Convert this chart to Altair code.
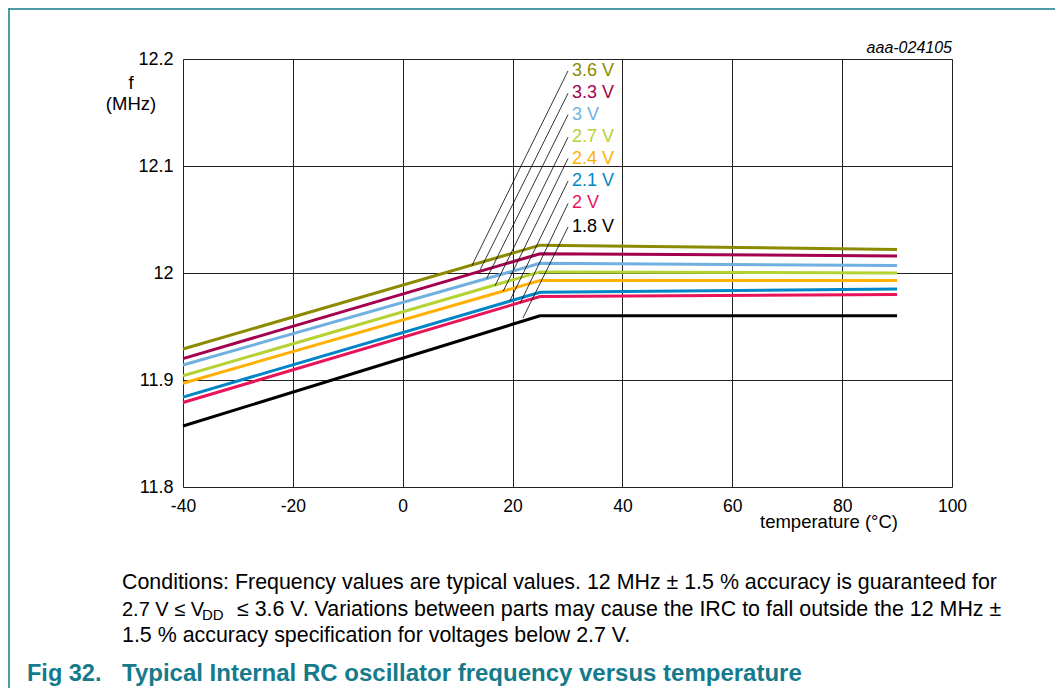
import altair as alt
import pandas as pd

# ---------------- data ----------------
series = ["3.6 V", "3.3 V", "3 V", "2.7 V", "2.4 V", "2.1 V", "2 V", "1.8 V"]
colors = ["#8c8a00", "#a3004f", "#6fb0e0", "#b4d232", "#ffb000", "#0086c8", "#e8145a", "#000000"]
temps = [-40, 25, 90]
freq_3v6 = [11.929, 12.026, 12.022]
freq_3v3 = [11.920, 12.018, 12.016]
freq_3v0 = [11.914, 12.009, 12.007]
freq_2v7 = [11.904, 12.001, 12.000]
freq_2v4 = [11.897, 11.993, 11.993]
freq_2v1 = [11.884, 11.982, 11.985]
freq_2v0 = [11.879, 11.978, 11.980]
freq_1v8 = [11.857, 11.960, 11.960]
freqs = [freq_3v6, freq_3v3, freq_3v0, freq_2v7, freq_2v4, freq_2v1, freq_2v0, freq_1v8]

label_x = 30.1          # leader start / label anchor (temperature)
label_text_x = 30.8
label_y = [12.189, 12.168, 12.148, 12.127, 12.107, 12.086, 12.065, 12.043]
leader_end_x = [12.6, 14.1, 15.3, 16.8, 18.3, 19.5, 21.4, 21.9]
leader_end_y = [12.007, 12.003, 11.995, 11.988, 11.983, 11.974, 11.972, 11.958]

x_ticks = [-40, -20, 0, 20, 40, 60, 80, 100]
y_ticks = [11.8, 11.9, 12.0, 12.1, 12.2]

rows = []
for s, f in zip(series, freqs):
    for t, v in zip(temps, f):
        rows.append({"series": s, "temp": t, "freq": v})
lines_df = pd.DataFrame(rows)

labels_df = pd.DataFrame({
    "series": series,
    "lx": [label_x] * len(series),
    "tx": [label_text_x] * len(series),
    "ly": label_y,
    "ex": leader_end_x,
    "ey": leader_end_y,
})

W, H = 769, 428
FONT = "Liberation Sans"
TEAL = "#157a8b"

xscale = alt.Scale(domain=[-40, 100], nice=False, zero=False)
yscale = alt.Scale(domain=[11.8, 12.2], nice=False, zero=False)
cscale = alt.Scale(domain=series, range=colors)

xaxis = alt.Axis(values=x_ticks, title=None, labelExpr="datum.value + ''",
                 labelFontSize=17.5, labelPadding=10, labelColor="black", labelFlush=False,
                 labelOverlap=False,
                 grid=True, gridColor="#222222", gridWidth=1, ticks=False, domain=False)
yaxis = alt.Axis(values=y_ticks, title=None, format=".1~f",
                 labelFontSize=18, labelPadding=10, labelColor="black", labelFlush=False,
                 labelOverlap=False,
                 grid=True, gridColor="#222222", gridWidth=1, ticks=False, domain=False)

lines = alt.Chart(lines_df).mark_line(strokeWidth=3).encode(
    x=alt.X("temp:Q", scale=xscale, axis=xaxis),
    y=alt.Y("freq:Q", scale=yscale, axis=yaxis),
    color=alt.Color("series:N", scale=cscale, legend=None),
    detail="series:N",
)

leaders = alt.Chart(labels_df).mark_rule(color="black", strokeWidth=0.8).encode(
    x=alt.X("lx:Q", scale=xscale),
    y=alt.Y("ly:Q", scale=yscale),
    x2="ex:Q",
    y2="ey:Q",
)

label_marks = alt.Chart(labels_df).mark_text(
    align="left", baseline="middle", fontSize=18, font=FONT
).encode(
    x=alt.X("tx:Q", scale=xscale),
    y=alt.Y("ly:Q", scale=yscale),
    text="series:N",
    color=alt.Color("series:N", scale=cscale, legend=None),
)


def txt(s, x, y, size=17, align="left", baseline="alphabetic", color="black",
        weight="normal", style="normal"):
    return alt.Chart(pd.DataFrame({"t": [s]})).mark_text(
        align=align, baseline=baseline, fontSize=size, font=FONT, color=color,
        fontWeight=weight, fontStyle=style
    ).encode(x=alt.value(x), y=alt.value(y), text="t:N")


def rule(x, y, x2=None, y2=None, color=TEAL, width=1.5):
    enc = dict(x=alt.value(x), y=alt.value(y))
    if x2 is not None:
        enc["x2"] = alt.value(x2)
    if y2 is not None:
        enc["y2"] = alt.value(y2)
    return alt.Chart(pd.DataFrame({"a": [0]})).mark_rule(color=color, strokeWidth=width).encode(**enc)


CS = 21.4  # conditions font size
annotations = [
    txt("f", -52, 24, size=18.5, baseline="middle", align="center"),
    txt("(MHz)", -52, 45, size=18.5, baseline="middle", align="center"),
    txt("temperature (°C)", 646, 463, size=18.5, baseline="middle", align="center"),
    txt("aaa-024105", 769, -11, size=16, align="right", baseline="middle", style="italic"),
    txt("Conditions: Frequency values are typical values. 12 MHz ± 1.5 % accuracy is guaranteed for",
        -61, 530, size=CS),
    txt("2.7 V ≤ V", -61, 557, size=20),
    txt("DD", 19, 561, size=15),
    txt("≤ 3.6 V. Variations between parts may cause the IRC to fall outside the 12 MHz ±",
        54, 557, size=CS),
    txt("1.5 % accuracy specification for voltages below 2.7 V.", -61, 583, size=CS),
    txt("Fig 32.", -156, 622, size=23.5, color=TEAL, weight="bold"),
    txt("Typical Internal RC oscillator frequency versus temperature", -61, 622, size=24,
        color=TEAL, weight="bold"),
]

frame = [
    rule(-174, -50, x2=880),
    rule(-174, -53, y2=640),
]

chart = alt.layer(lines, leaders, label_marks, *annotations, *frame).properties(
    width=W, height=H,
    autosize=alt.AutoSizeParams(type="none"),
    padding={"left": 175, "top": 51, "right": 103, "bottom": 201},
).configure_view(
    stroke="black", strokeWidth=1
).configure(
    font=FONT, background="white"
)

chart.save("out.html", embed_options={"renderer": "svg", "actions": False})
